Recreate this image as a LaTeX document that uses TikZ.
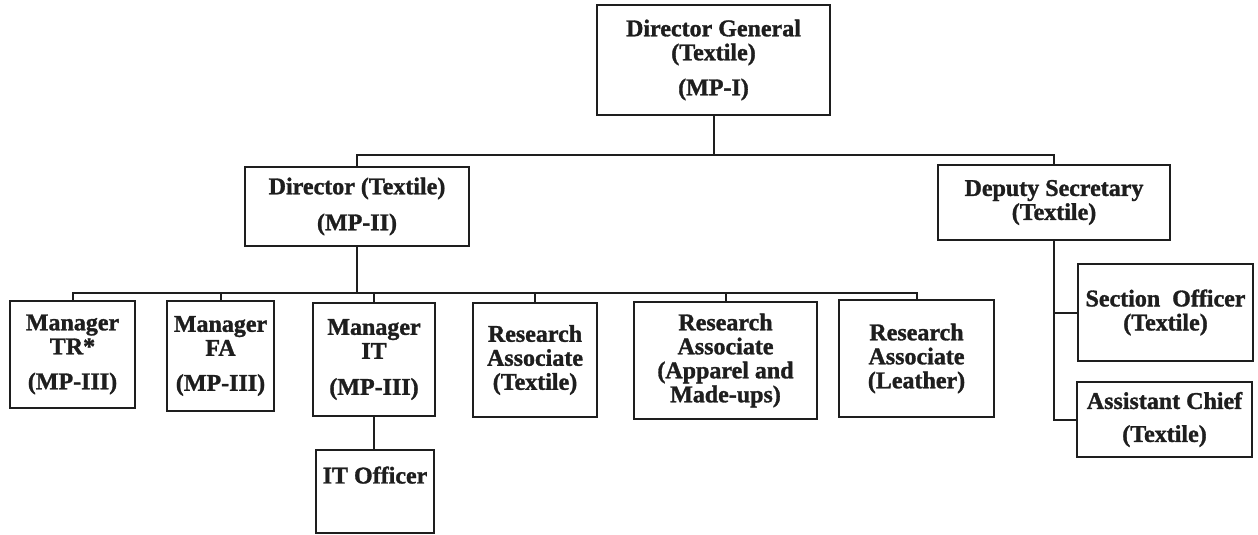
\documentclass[tikz,border=0pt]{standalone}
\usepackage{fontspec}
\setmainfont{Liberation Serif}[BoldFeatures={FakeBold=1.3}]
\definecolor{ink}{RGB}{30,30,30}
\begin{document}
\begin{tikzpicture}[x=1pt,y=-1pt,
  box/.style={draw=ink,line width=2pt,rectangle,inner sep=0pt,align=center,
    text=ink,font=\fontsize{24}{24}\selectfont\bfseries},
  conn/.style={draw=ink,line width=2pt}]
\useasboundingbox (0,0) rectangle (1258,535);
% nodes
\node[box,minimum width=233pt,minimum height=110pt] (dg) at (713.5,60) {Director General\\(Textile)\\[11pt](MP-I)};
\node[box,minimum width=224pt,minimum height=79pt] (dir) at (357,206.5) {Director (Textile)\\[12pt](MP-II)};
\node[box,minimum width=232pt,minimum height=75pt] (ds) at (1054,202.5) {Deputy Secretary\\(Textile)};
\node[box,minimum width=125pt,minimum height=107pt] (tr) at (72.5,354.5) {Manager\\TR*\\[11pt](MP-III)};
\node[box,minimum width=107pt,minimum height=110pt] (fa) at (220.5,356) {Manager\\FA\\[11pt](MP-III)};
\node[box,minimum width=122pt,minimum height=113pt] (it) at (374,359.5) {Manager\\IT\\[12pt](MP-III)};
\node[box,minimum width=118pt,minimum height=83pt] (ito) at (375,491.5) {IT Officer\\[9pt]~};
\node[box,minimum width=124pt,minimum height=114pt] (rat) at (535,360) {Research\\Associate\\(Textile)};
\node[box,minimum width=183pt,minimum height=117pt] (raa) at (725.5,360.5) {Research\\Associate\\(Apparel and\\Made-ups)};
\node[box,minimum width=155pt,minimum height=117pt] (ral) at (916.5,358.5) {Research\\Associate\\(Leather)};
\node[box,minimum width=175pt,minimum height=97pt] (so) at (1165.5,312.5) {Section\ \ Officer\\(Textile)};
\node[box,minimum width=175pt,minimum height=75pt] (ac) at (1164.5,419.5) {Assistant Chief\\[9pt](Textile)};
% bus levels
\coordinate (b1) at (0,155);
\coordinate (b2) at (0,293);
% connectors
\draw[conn] (dg.south) -- (dg.south |- b1);
\draw[conn] (dir.north) |- (ds.north |- b1) -- (ds.north);
\draw[conn] (dir.south) -- (dir.south |- b2);
\draw[conn] (tr.north) |- (ral.north |- b2) -- (ral.north);
\draw[conn] (fa.north) -- (fa.north |- b2);
\draw[conn] (it.north) -- (it.north |- b2);
\draw[conn] (rat.north) -- (rat.north |- b2);
\draw[conn] (raa.north) -- (raa.north |- b2);
\draw[conn] (it.south) -- (it.south |- ito.north);
\draw[conn] (ds.south) |- (ac.west);
\draw[conn] (ds.south |- so.west) -- (so.west);
\end{tikzpicture}
\end{document}
